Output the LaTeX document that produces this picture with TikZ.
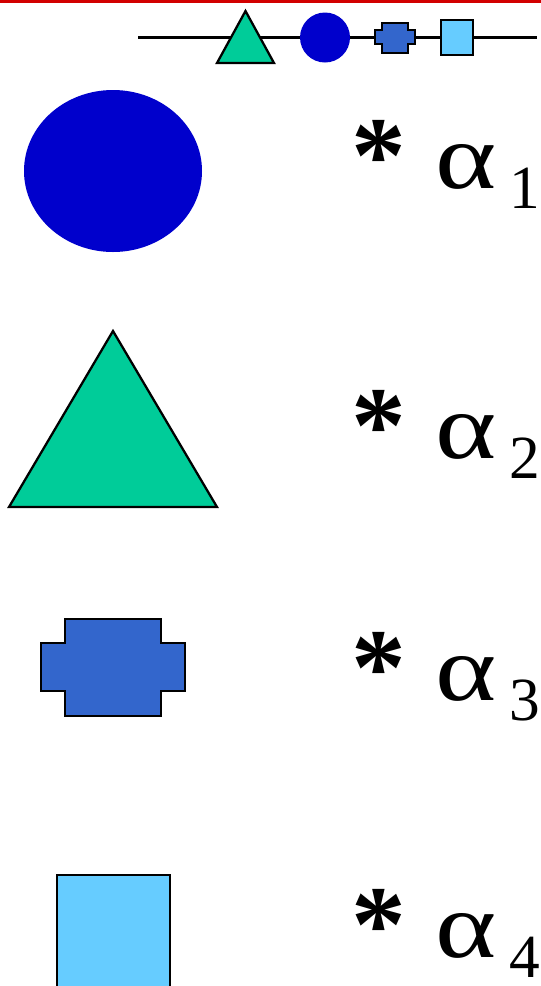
\documentclass[tikz,border=0pt]{standalone}
\usepackage{fontspec}
\usepackage{graphicx}
\newfontfamily\timesfont{Liberation Serif}
\definecolor{circblue}{RGB}{0,0,204}
\definecolor{trigreen}{RGB}{0,204,153}
\definecolor{crossblue}{RGB}{51,102,204}
\definecolor{sqcyan}{RGB}{102,204,255}
\definecolor{rulered}{RGB}{210,0,0}
\tikzset{
  outl/.style={draw=black, line width=1.7pt, line join=miter},
  termlbl/.style={anchor=base west, inner sep=0pt},
}
\newcommand{\alphaterm}[1]{%
  \hspace{-4pt}\raisebox{-3pt}{\timesfont\bfseries\fontsize{82}{82}\selectfont *}\hspace{22pt}%
  {\timesfont\fontsize{70}{70}\selectfont\scalebox{1.25}[1]{α}}\hspace{9pt}%
  \raisebox{-15pt}{\timesfont\fontsize{46}{46}\selectfont #1}}

\begin{document}
\begin{tikzpicture}[x=0.75pt, y=-0.75pt]
\useasboundingbox (0,0) rectangle (541,986);
\clip (0,0) rectangle (541,986);

% red rule on top
\fill[rulered] (0,0) rectangle (541,3);

% small strip of the four shapes
\coordinate (stripL) at (138,37.5);
\coordinate (stripR) at (537,37.5);
\draw[line width=1.7pt] (stripL) -- (stripR);
\draw[outl, fill=trigreen] (245.5,11) -- (274,63) -- (217,63) -- cycle;
\fill[circblue] (325,37.5) circle (25);
\draw[outl, fill=crossblue] (382,23) -- (408,23) -- (408,30) -- (415,30) -- (415,44) -- (408,44)
  -- (408,53) -- (382,53) -- (382,44) -- (375,44) -- (375,30) -- (382,30) -- cycle;
\draw[outl, fill=sqcyan] (441,20) rectangle (473,55);

% big shapes, one per row
\fill[circblue] (113,171) ellipse [x radius=89, y radius=81];
\draw[outl, fill=trigreen] (113,331) -- (217,507) -- (9,507) -- cycle;
\draw[outl, fill=crossblue] (65,619) -- (161,619) -- (161,643) -- (185,643) -- (185,691) -- (161,691)
  -- (161,716) -- (65,716) -- (65,691) -- (41,691) -- (41,643) -- (65,643) -- cycle;
\draw[outl, fill=sqcyan] (57,875) rectangle (170,1000);

% labels
\node[termlbl] (alpha1) at (357,188) {\alphaterm{1}};
\node[termlbl] (alpha2) at (357,458) {\alphaterm{2}};
\node[termlbl] (alpha3) at (357,700) {\alphaterm{3}};
\node[termlbl] (alpha4) at (357,957) {\alphaterm{4}};

\end{tikzpicture}
\end{document}
